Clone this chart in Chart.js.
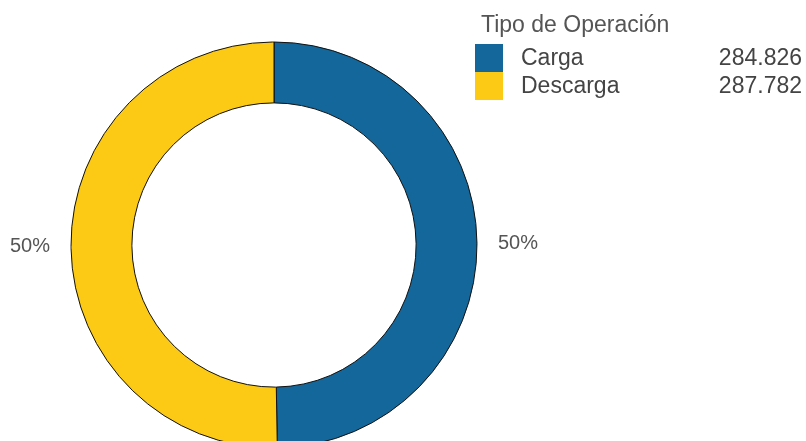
<!DOCTYPE html>
<html>
<head>
<meta charset="utf-8">
<script src="https://cdn.jsdelivr.net/npm/chart.js@4"></script>
<style>
  html, body { margin: 0; padding: 0; background: #fff; }
  #wrap { width: 806px; height: 441px; position: relative; }
</style>
</head>
<body>
<div id="wrap"><canvas id="donut"></canvas></div>
<script>
// Data
const legendTitle = 'Tipo de Operación';
const categories = ['Carga', 'Descarga'];
const values = [284826, 287782];
const valueLabels = ['284.826', '287.782'];
const colors = ['#13679A', '#FCCA14'];

// Draws the "50%" labels and the legend on the right
const labelsPlugin = {
    id: 'labelsPlugin',
    afterDraw(chart) {
        const ctx = chart.ctx;
        const meta = chart.getDatasetMeta(0);
        const total = values.reduce((a, b) => a + b, 0);
        ctx.save();
        ctx.font = '20px "Liberation Sans", Arial, sans-serif';
        ctx.fillStyle = '#555';
        ctx.textAlign = 'center';
        ctx.textBaseline = 'middle';
        meta.data.forEach((arc, i) => {
            const p = arc.getProps(['x', 'y', 'startAngle', 'endAngle', 'outerRadius']);
            const mid = (p.startAngle + p.endAngle) / 2;
            const r = p.outerRadius + 41;
            const pct = Math.round(values[i] / total * 100) + '%';
            ctx.fillText(pct, p.x + Math.cos(mid) * r, p.y + Math.sin(mid) * r);
        });

        // legend
        ctx.textAlign = 'left';
        ctx.textBaseline = 'alphabetic';
        ctx.font = '23px "Liberation Sans", Arial, sans-serif';
        ctx.fillStyle = '#555';
        ctx.fillText(legendTitle, 481, 32);
        categories.forEach((c, i) => {
            const y = 44 + i * 28;
            ctx.fillStyle = colors[i];
            ctx.fillRect(475, y, 28, 28);
            ctx.fillStyle = '#444';
            ctx.textAlign = 'left';
            ctx.textBaseline = 'middle';
            ctx.fillText(c, 521, y + 15);
            ctx.textAlign = 'right';
            ctx.fillText(valueLabels[i], 802, y + 15);
        });
        ctx.restore();
    }
};

new Chart(document.getElementById('donut'), {
    type: 'doughnut',
    data: {
        labels: categories,
        datasets: [{
            data: values,
            backgroundColor: colors,
            borderColor: '#111',
            borderWidth: 1
        }]
    },
    options: {
        responsive: true,
        maintainAspectRatio: false,
        animation: false,
        radius: 203,
        cutout: '70%',
        layout: { padding: { top: 49, bottom: 0, left: 0, right: 258 } },
        plugins: {
            legend: { display: false },
            tooltip: { enabled: false }
        }
    },
    plugins: [labelsPlugin]
});
</script>
</body>
</html>
